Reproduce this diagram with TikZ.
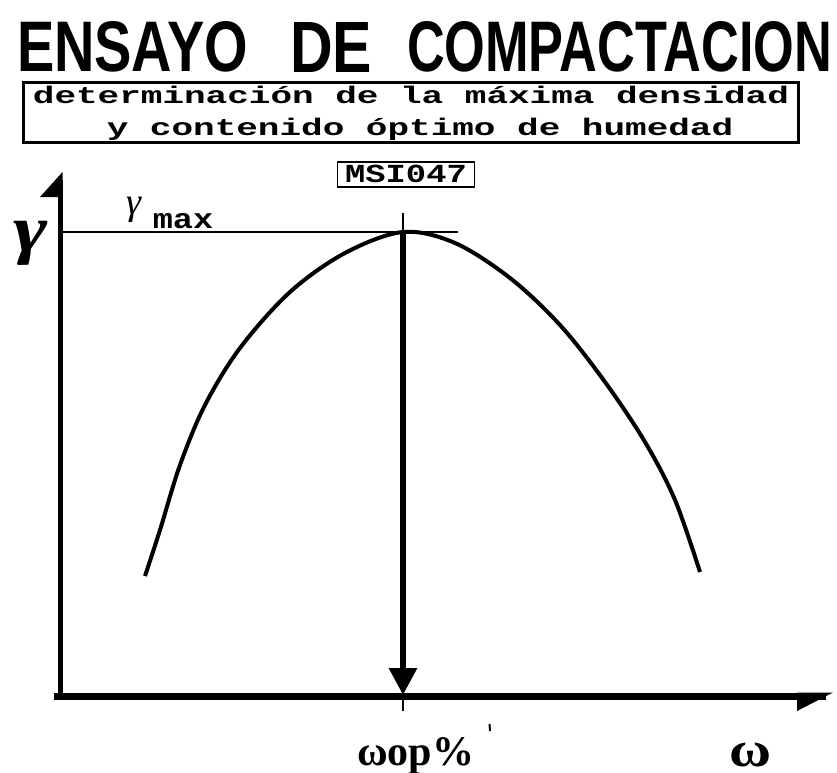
\documentclass[tikz,border=0pt]{standalone}
\usepackage{fontspec}
\usepackage{graphicx}
\setmainfont{Liberation Serif}
\newfontfamily\monof{Liberation Mono}
\newfontfamily\sansf{Liberation Sans}
\usetikzlibrary{arrows.meta}
\tikzset{
  txt/.style={inner sep=0pt, outer sep=0pt},
  thinline/.style={line width=2pt},
  curveline/.style={line width=4pt, line join=round},
}
\begin{document}
\begin{tikzpicture}[x=1pt,y=-1pt]
\useasboundingbox (0,0) rectangle (837,772);
% title
\node[txt, anchor=west] (title1) at (17,47) {\resizebox{231pt}{50pt}{\sansf\bfseries ENSAYO}};
\node[txt, anchor=west] (title2) at (290,47) {\resizebox{82pt}{50pt}{\sansf\bfseries DE}};
\node[txt, anchor=west] (title3) at (407,47) {\resizebox{425pt}{50pt}{\sansf\bfseries COMPACTACION}};
% subtitle box
\node[draw, line width=3.5pt, minimum width=775pt, minimum height=60pt, inner sep=0pt] (subbox) at (411,112.5) {};
\node[txt, anchor=base] (sub1) at (411,103) {\scalebox{1.5}[1]{\fontsize{24}{24}\selectfont\monof\bfseries determinación de la máxima densidad}};
\node[txt, anchor=base] (sub2) at (420,135) {\scalebox{1.5}[1]{\fontsize{24}{24}\selectfont\monof\bfseries y contenido óptimo de humedad}};
% code box
\node[draw, line width=1.6pt, minimum width=137pt, minimum height=25pt, inner sep=0pt] (codebox) at (406,174.5) {};
\node[txt, anchor=base] (code) at (406,182) {\scalebox{1.3}[1]{\fontsize{26}{26}\selectfont\monof\bfseries MSI047}};
% axes
\coordinate (origin) at (60,696);
\coordinate (ytop) at (60,180);
\coordinate (xend) at (826,696);
\draw[line width=5pt] ([yshift=-3.5pt]origin) -- (ytop);
\fill (62.5,172) -- (40,197) -- (62.5,197) -- cycle;
\draw[line width=7pt] ([xshift=-6pt]origin) -- (xend);
\fill (833,692.5) -- (797,711) -- (797,692.5) -- cycle;
% gamma max line
\coordinate (gl) at (62,232);
\coordinate (gr) at (458,232);
\draw[thinline] (gl) -- (gr);
% peak and optimum
\coordinate (peaktop) at (403,213);
\coordinate (peak) at (403,232);
\coordinate (opt) at (403,695);
\coordinate (optb) at (403,711);
\draw[thinline] (peaktop) -- (peak);
\draw[line width=6pt, -{Triangle[width=27pt,length=27pt]}] (peak) -- (opt);
\draw[thinline] (opt) -- (optb);
% curve
\draw[curveline] plot[smooth, tension=0.55] coordinates {(145,576) (160,530) (180,465) (205,405) (240,348) (290,292) (345,253) (403,232) (455,243) (510,278) (560,325) (605,382) (645,442) (675,500) (700,572)};
% stray mark
\coordinate (m1) at (489.5,724);
\coordinate (m2) at (490,731);
\draw[line width=2pt] (m1) -- (m2);
% labels
\node[txt, anchor=base] (gy) at (31,251) {\scalebox{1.25}[1]{\fontsize{66}{66}\selectfont\bfseries\itshape γ}};
\node[txt, anchor=base] (gmax) at (134,214) {\fontsize{38}{38}\selectfont\itshape γ};
\node[txt, anchor=base] (max) at (183,228) {\scalebox{1.2}[1]{\fontsize{28}{28}\selectfont\monof\bfseries max}};
\node[txt, anchor=base west] (wop) at (357,765) {\fontsize{42}{42}\selectfont\bfseries ωop\%};
\node[txt, anchor=base] (w) at (751,766) {\scalebox{1.15}[1]{\fontsize{50}{50}\selectfont\bfseries ω}};
\end{tikzpicture}
\end{document}
